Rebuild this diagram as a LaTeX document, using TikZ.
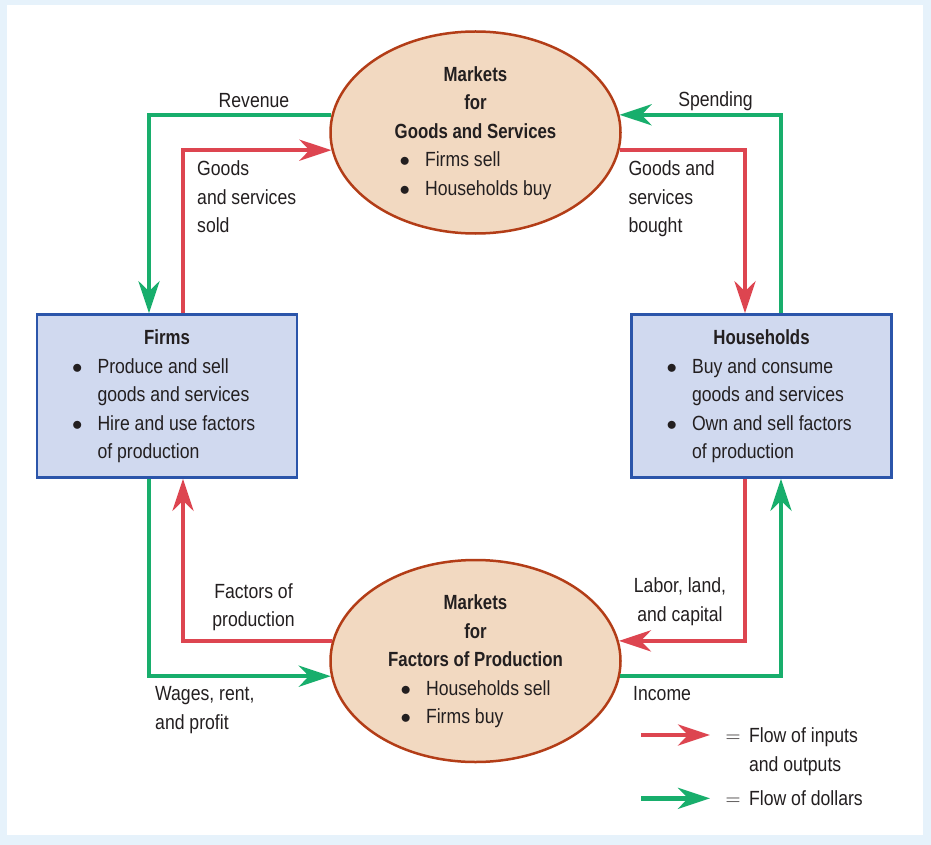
\documentclass[tikz,border=0pt]{standalone}
\usepackage{fontspec}
\setmainfont{Liberation Sans}[UprightFeatures={FakeStretch=0.86}, BoldFeatures={FakeStretch=0.82}]
\usetikzlibrary{shapes.geometric, arrows.meta}

\definecolor{bgblue}{HTML}{E6F2FB}
\definecolor{ink}{HTML}{231F20}
\definecolor{flowred}{HTML}{DD4550}
\definecolor{flowgreen}{HTML}{18AE6C}
\definecolor{mktfill}{HTML}{F2D9C1}
\definecolor{mktborder}{HTML}{B33D17}
\definecolor{secfill}{HTML}{D0D9EF}
\definecolor{secborder}{HTML}{2B55AA}

\newcommand{\flowtext}[2][l]{\begin{tabular}[t]{@{}#1@{}}#2\end{tabular}}
\newcommand{\itm}[1]{\makebox[25.5pt][l]{$\bullet$}#1}
\newcommand{\itmc}[1]{\hspace{25.5pt}#1}

\begin{document}
\begin{tikzpicture}[->,>={Stealth[length=32pt,width=21pt,inset=10pt]},x=1pt,y=-1pt,
	market/.style={ellipse, draw=mktborder, fill=mktfill, line width=2.5pt, minimum width=290pt, minimum height=202pt, inner sep=0pt},
	sector/.style={rectangle, draw=secborder, fill=secfill, line width=2.5pt, minimum width=260pt, minimum height=163pt, inner sep=0pt},
	goods/.style={draw=flowred, line width=4.5pt},
	dollar/.style={draw=flowgreen, line width=4.5pt},
	lbl/.style={inner sep=0pt},
	every node/.style={text=ink}]
		\fontsize{20.5}{28.5}\selectfont
		\fill[bgblue] (0,0) rectangle (931,845);
		\fill[white] (7,5) rectangle (923,835);

		\node[market					] at (475.5,132.5)	(GoodsMkt)		{\flowtext[c]{\textbf{Markets}\\ \textbf{for}\\ \textbf{Goods and Services}\\ \flowtext{\itm{Firms sell}\\ \itm{Households buy}}}};
		\node[market					] at (475.5,661)	(FactorMkt)		{\flowtext[c]{\textbf{Markets}\\ \textbf{for}\\ \textbf{Factors of Production}\\ \flowtext{\itm{Households sell}\\ \itm{Firms buy}}}};
		\node[sector					] at (167,396)		(Firms)			{\flowtext[c]{\textbf{Firms}\\ \makebox[190pt][l]{\flowtext{\itm{Produce and sell}\\ \itmc{goods and services}\\ \itm{Hire and use factors}\\ \itmc{of production}}}}};
		\node[sector					] at (761.5,396)	(Households)	{\flowtext[c]{\textbf{Households}\\ \makebox[190pt][l]{\flowtext{\itm{Buy and consume}\\ \itmc{goods and services}\\ \itm{Own and sell factors}\\ \itmc{of production}}}}};

		% flow labels
		\node[lbl, anchor=base			] at (254,107.3)	(revenueLbl)	{Revenue};
		\node[lbl, anchor=base west		] at (197,176)		(soldLbl)		{\flowtext{Goods\\ and services\\ sold}};
		\node[lbl, anchor=base			] at (715.5,106.7)	(spendingLbl)	{Spending};
		\node[lbl, anchor=base west		] at (628.3,175.5)	(boughtLbl)		{\flowtext{Goods and\\ services\\ bought}};
		\node[lbl, anchor=base			] at (253.5,598.3)	(factorsLbl)	{\flowtext[c]{Factors of\\ production}};
		\node[lbl, anchor=base west		] at (155,700.5)	(wagesLbl)		{\flowtext{Wages, rent,\\ and profit}};
		\node[lbl, anchor=base			] at (680,592.7)	(laborLbl)		{\flowtext[c]{Labor, land,\\ and capital}};
		\node[lbl, anchor=base west		] at (633,700.5)	(incomeLbl)		{Income};

		% key
		\node[lbl, anchor=base west		] at (725.5,742.7)	(keyIn)			{\flowtext[l@{\hspace{8.5pt}}l]{$=$ & Flow of inputs\\ & and outputs}};
		\node[lbl, anchor=base west		] at (725.5,805)	(keyDollar)		{\flowtext[l@{\hspace{8.5pt}}l]{$=$ & Flow of dollars}};
		\coordinate (keyInTail)		at (641,735);
		\coordinate (keyInTip)		at (710,735);
		\coordinate (keyDollarTail)	at (641,798.3);
		\coordinate (keyDollarTip)	at (710,798.3);

		\draw[dollar]	(GoodsMkt.173)					-|	([xshift=-18pt]Firms.north);
		\draw[goods]	([xshift=16pt]Firms.north)		|-	(GoodsMkt.187);
		\draw[dollar]	([xshift=19.5pt]Households.north)	|-	(GoodsMkt.7);
		\draw[goods]	(GoodsMkt.-7)					-|	([xshift=-16.5pt]Households.north);

		\draw[goods]	(FactorMkt.172)					-|	([xshift=16pt]Firms.south);
		\draw[dollar]	([xshift=-18pt]Firms.south)		|-	(FactorMkt.186);
		\draw[goods]	([xshift=-16.5pt]Households.south)	|-	(FactorMkt.8);
		\draw[dollar]	(FactorMkt.-6)					-|	([xshift=19.5pt]Households.south);

		\draw[goods]	(keyInTail)		--	(keyInTip);
		\draw[dollar]	(keyDollarTail)	--	(keyDollarTip);
\end{tikzpicture}
\end{document}
